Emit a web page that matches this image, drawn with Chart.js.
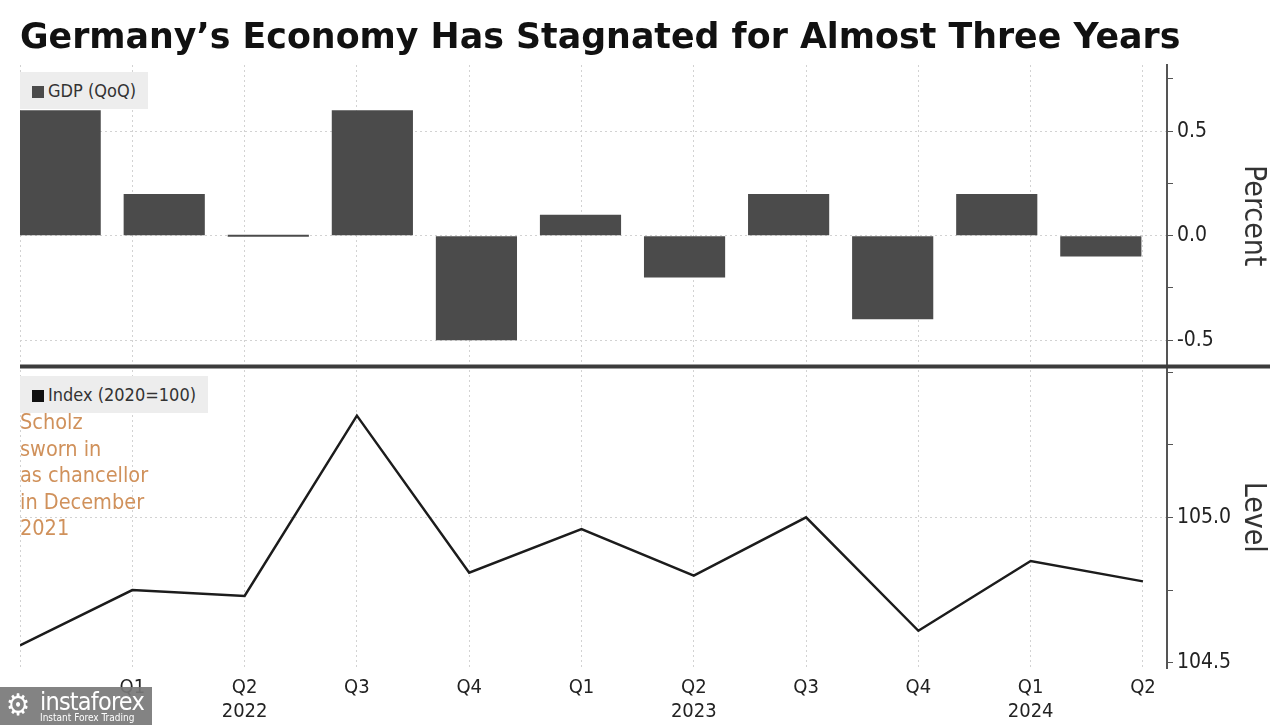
<!DOCTYPE html>
<html>
<head>
<meta charset="utf-8">
<title>Germany GDP</title>
<script src="https://cdn.jsdelivr.net/npm/chart.js@4.4.1/dist/chart.umd.min.js"></script>
<style>
  body { margin: 0; background: #fff; }
  #wrap { position: relative; width: 1280px; height: 725px; overflow: hidden;
          font-family: 'DejaVu Sans Condensed', 'DejaVu Sans', sans-serif; }
  #title { position: absolute; left: 20px; top: 16px; font-family: 'DejaVu Sans', sans-serif;
           font-weight: bold; font-size: 34.8px; color: #111; white-space: nowrap; }
  .legend { position: absolute; left: 20px; background: #ededed; color: #333;
            font-size: 18px; line-height: 37px; padding: 0 12px 0 12px; white-space: nowrap; }
  .legend i { display: inline-block; width: 12px; height: 12px; margin-right: 4px; vertical-align: -1px; }
  #note { position: absolute; left: 20px; top: 409px; color: #d0915b; font-size: 21.5px; line-height: 26.5px; }
  #logo { position: absolute; left: 0; top: 687px; width: 152px; height: 38px; background: rgba(120,120,120,0.92);
          color: #fff; }
  #logo b { position: absolute; left: 40px; top: 0px; font-weight: normal; font-size: 25px; letter-spacing: -0.8px; }
  #logo small { position: absolute; left: 40px; top: 25px; font-size: 10px; }
  #logo span { position: absolute; left: 6px; top: 2px; font-size: 30px; line-height: 32px; }
</style>
</head>
<body>
<div id="wrap">
  <canvas id="chart" width="1280" height="725"></canvas>
  <div id="title">Germany’s Economy Has Stagnated for Almost Three Years</div>
  <div class="legend" style="top:72px;"><i style="background:#4b4b4b"></i>GDP (QoQ)</div>
  <div class="legend" style="top:376px;"><i style="background:#111"></i>Index (2020=100)</div>
  <div id="note">Scholz<br>sworn in<br>as chancellor<br>in December<br>2021</div>
  <div id="logo"><span>⚙</span><b>instaforex</b><small>Instant Forex Trading</small></div>
</div>
<script>
// quarters from Q4 2021 to Q2 2024
var quarters = ['Q4 2021', 'Q1 2022', 'Q2 2022', 'Q3 2022', 'Q4 2022', 'Q1 2023',
                'Q2 2023', 'Q3 2023', 'Q4 2023', 'Q1 2024', 'Q2 2024'];
var tickLabels = ['', 'Q1', ['Q2', '2022'], 'Q3', 'Q4', 'Q1', ['Q2', '2023'], 'Q3', 'Q4', ['Q1', '2024'], 'Q2'];
// GDP change on quarter, percent
var gdpQoq = [0.6, 0.2, 0.0, 0.6, -0.5, 0.1, -0.2, 0.2, -0.4, 0.2, -0.1];
// GDP index level, 2020 = 100
var gdpIndex = [104.56, 104.75, 104.73, 105.35, 104.81, 104.96, 104.80, 105.0, 104.61, 104.85, 104.78];

var axisFont = 'DejaVu Sans Condensed';
var gridColor = '#d2d2d2';

function onStep(v, step) {
  return Math.abs(v / step - Math.round(v / step)) < 1e-6;
}

// thick line between the two panels
var dividerPlugin = {
  id: 'divider',
  afterDraw: function(chart) {
    var s = chart.scales.yPct;
    var ctx = chart.ctx;
    ctx.save();
    ctx.strokeStyle = '#3c3c3c';
    ctx.lineWidth = 4;
    ctx.beginPath();
    ctx.moveTo(chart.chartArea.left, s.bottom);
    ctx.lineTo(chart.width - 10, s.bottom);
    ctx.stroke();
    ctx.restore();
  }
};

function panelAxis(min, max, title) {
  return {
    position: 'right',
    stack: 'panels',
    stackWeight: 1,
    min: min,
    max: max,
    grid: {
      color: function(c) {
        var v = c.tick.value;
        return onStep(v, 0.5) && v > min + 0.05 && v < max - 0.05 ? gridColor : 'rgba(0,0,0,0)';
      },
      tickColor: '#555',
      tickLength: 6
    },
    border: { color: '#555', width: 2, dash: [2, 3] },
    ticks: {
      stepSize: 0.25,
      includeBounds: false,
      padding: 4,
      color: '#222',
      font: { family: axisFont, size: 21 },
      callback: function(v) {
        if (!onStep(v, 0.5) || v > max - 0.05) return '';
        return v.toFixed(1);
      }
    },
    title: { display: true, text: title, color: '#333', font: { family: axisFont, size: 30 },
             padding: { top: 9, bottom: 0 } },
    afterFit: function(s) { s.width = 113; }
  };
}

var chart = new Chart(document.getElementById('chart').getContext('2d'), {
  type: 'bar',
  data: {
    datasets: [{
      type: 'bar',
      label: 'GDP (QoQ)',
      data: gdpQoq.map(function(v, i) { return { x: i, y: v }; }),
      xAxisID: 'xb',
      yAxisID: 'yPct',
      backgroundColor: '#4b4b4b',
      grouped: false,
      categoryPercentage: 1,
      barPercentage: 0.78,
      minBarLength: 2
    }, {
      type: 'line',
      label: 'Index (2020=100)',
      data: gdpIndex.map(function(v, i) { return { x: i, y: v }; }),
      xAxisID: 'x',
      yAxisID: 'yLvl',
      borderColor: '#1c1c1c',
      borderWidth: 2.5,
      pointRadius: 0,
      tension: 0
    }]
  },
  options: {
    responsive: false,
    animation: false,
    devicePixelRatio: 1,
    layout: { padding: { left: 20, top: 65, right: 0, bottom: 1 } },
    plugins: { legend: { display: false }, tooltip: { enabled: false } },
    scales: {
      yPct: panelAxis(-0.626, 0.817, 'Percent'),
      yLvl: panelAxis(104.482, 105.519, 'Level'),
      x: {
        type: 'linear',
        position: 'bottom',
        offset: false,
        min: 0,
        max: 10.214,
        grid: { color: gridColor, drawTicks: false, offset: false },
        border: { display: false, dash: [2, 3] },
        ticks: {
          stepSize: 1,
          includeBounds: false,
          autoSkip: false,
          maxRotation: 0,
          padding: 8,
          color: '#222',
          font: { family: axisFont, size: 20, lineHeight: 1.2 },
          callback: function(v) { return tickLabels[v]; }
        },
        afterFit: function(s) { s.height = 56; }
      },
      // own axis for the bars, kept in the layout but drawn invisible
      xb: {
        type: 'linear',
        position: 'top',
        offset: false,
        min: -0.386,
        max: 10.636,
        grid: { display: false, offset: false },
        border: { display: false },
        ticks: { display: false, stepSize: 1, includeBounds: false },
        afterFit: function(s) { s.height = 0; }
      }
    }
  },
  plugins: [dividerPlugin]
});
</script>
</body>
</html>
